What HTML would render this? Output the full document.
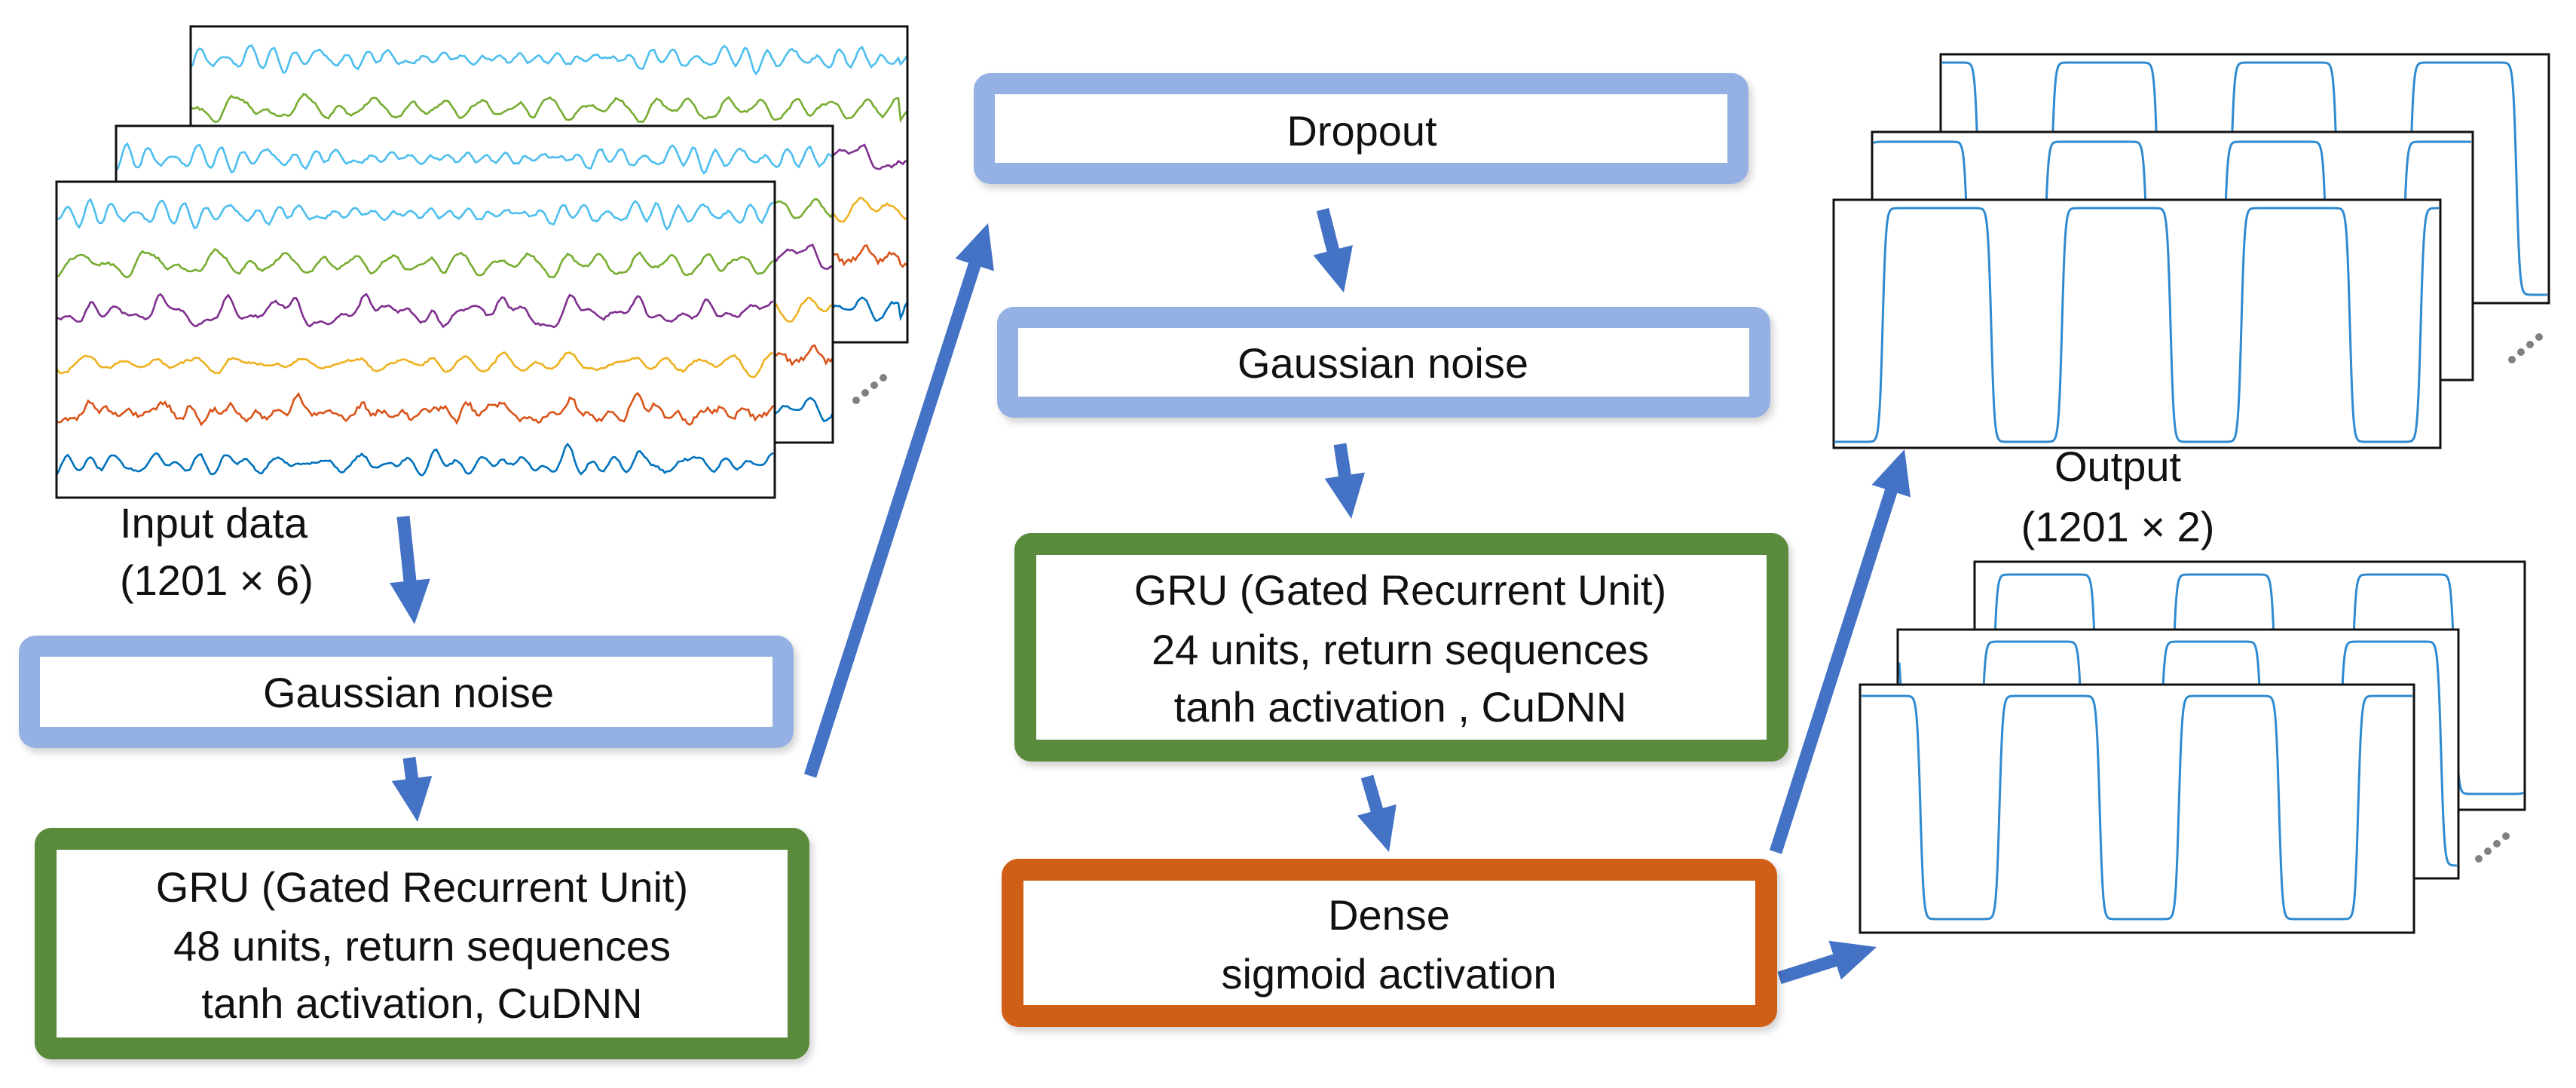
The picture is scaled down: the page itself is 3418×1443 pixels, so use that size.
<!DOCTYPE html>
<html><head><meta charset="utf-8">
<style>
html,body{margin:0;padding:0;background:#fff;}
svg{display:block;}
text{font-family:"Liberation Sans",sans-serif;font-size:56px;fill:#111;}
</style></head>
<body>
<svg id="s" width="3418" height="1443" viewBox="0 0 3418 1443" xmlns="http://www.w3.org/2000/svg">
<defs>
<filter id="sh" x="-5%" y="-5%" width="110%" height="120%"><feDropShadow dx="4" dy="6" stdDeviation="5" flood-color="#000" flood-opacity="0.18"/></filter>
</defs>
<g id="plots"></g>
<g id="arrows"></g>
<!-- boxes -->
<g fill="#fff" filter="url(#sh)">
<rect x="39" y="857" width="1000" height="121" rx="8" stroke="#95b1e3" stroke-width="28"/>
<rect x="60.5" y="1112.5" width="999" height="278" rx="8" stroke="#5a8a3a" stroke-width="29"/>
<rect x="1306" y="111" width="1000" height="119" rx="8" stroke="#95b1e3" stroke-width="28"/>
<rect x="1337" y="421" width="998" height="119" rx="8" stroke="#95b1e3" stroke-width="28"/>
<rect x="1360.5" y="721.5" width="998" height="274" rx="8" stroke="#5a8a3a" stroke-width="29"/>
<rect x="1343.5" y="1153.5" width="1000" height="194" rx="8" stroke="#cf5f16" stroke-width="29"/>
</g>
<g text-anchor="middle">
<text x="542" y="938">Gaussian noise</text>
<text x="560" y="1196">GRU (Gated Recurrent Unit)</text>
<text x="560" y="1274">48 units, return sequences</text>
<text x="560" y="1350">tanh activation, CuDNN</text>
<text x="1807" y="193">Dropout</text>
<text x="1835" y="501">Gaussian noise</text>
<text x="1858" y="802">GRU (Gated Recurrent Unit)</text>
<text x="1858" y="881">24 units, return sequences</text>
<text x="1858" y="957">tanh activation , CuDNN</text>
<text x="1843" y="1233">Dense</text>
<text x="1843" y="1311">sigmoid activation</text>
<text x="2810" y="638">Output</text>
<text x="2810" y="718">(1201 × 2)</text>
</g>
<text x="159" y="713">Input data</text>
<text x="159" y="789">(1201 × 6)</text>
<g fill="#808080">
<circle cx="1136" cy="531" r="5"/><circle cx="1148" cy="521" r="5"/><circle cx="1160" cy="511" r="5"/><circle cx="1172" cy="501" r="5"/>
<circle cx="3333" cy="477" r="5"/><circle cx="3345" cy="467" r="5"/><circle cx="3357" cy="457" r="5"/><circle cx="3369" cy="447" r="5"/>
<circle cx="3289" cy="1139" r="5"/><circle cx="3301" cy="1129" r="5"/><circle cx="3313" cy="1119" r="5"/><circle cx="3325" cy="1109" r="5"/>
</g>
</svg>
<script>
(function(){
var NS="http://www.w3.org/2000/svg";
var P=document.getElementById("plots"), A=document.getElementById("arrows");
function el(t,a,p){var e=document.createElementNS(NS,t);for(var k in a)e.setAttribute(k,a[k]);(p||P).appendChild(e);return e;}
var seed=7;function rnd(){seed=(seed*16807)%2147483647;return seed/2147483647;}
var cid=0;
function frame(x1,y1,x2,y2,draw){
  var id="c"+(cid++);
  var cp=el("clipPath",{id:id});el("rect",{x:x1,y:y1,width:x2-x1,height:y2-y1},cp);
  el("rect",{x:x1,y:y1,width:x2-x1,height:y2-y1,fill:"#fff"});
  var g=el("g",{"clip-path":"url(#"+id+")"});
  draw(g,x1,y1,x2,y2);
  el("rect",{x:x1,y:y1,width:x2-x1,height:y2-y1,fill:"none",stroke:"#111","stroke-width":3});
}
// input signals
var cols=["#4dbeee","#77ac30","#7e2f8e","#edb120","#d95319","#0072bd"];
var sig=[];
for(var r=0;r<6;r++){
  var comps=[];for(var k=0;k<6;k++)comps.push([rnd()*6.28,0.02+rnd()*0.25,(k<2?6:3)*(0.5+rnd())]);
  var pk=(r==2||r==4)?1:0.4;
  var arr=[];
  for(var i=0;i<1000;i++){
    var v=0;for(var k=0;k<comps.length;k++)v+=comps[k][2]*Math.sin(comps[k][0]+i*comps[k][1]);
    var ph=(i%91)/91; v+= -pk*18*Math.exp(-Math.pow((ph-0.5)*10,2));
    v+=(rnd()-0.5)*(r==4?6:3);
    arr.push(v);
  }
  sig.push(arr);
}
function inputs(g,x1,y1,x2,y2,off){
  var h=(y2-y1);
  for(var r=0;r<6;r++){
    var yc=y1+44+r*(h-88)/5;var d="";
    for(var i=0;i<=x2-x1;i+=3){var v=sig[r][(i+off)%1000];d+=(i?"L":"M")+(x1+i)+" "+(yc+v).toFixed(1);}
    el("path",{d:d,fill:"none",stroke:cols[r],"stroke-width":2.6},g);
  }
}
frame(253,35,1204,454,function(g,a,b,c,d){inputs(g,a,b,c,d,60);});
frame(154,167,1105,587,function(g,a,b,c,d){inputs(g,a,b,c,d,30);});
frame(75,241,1028,660,function(g,a,b,c,d){inputs(g,a,b,c,d,0);});
function sq(x1,y1,x2,y2,rise,H,hy,ly){
  return function(g){
    var Pd=238,d="";
    for(var x=x1+2;x<=x2-2;x+=1){
      var t=x-rise-H/2;t=t-Math.round(t/Pd)*Pd;var dd=Math.abs(t);
      var v=1/(1+Math.exp((dd-H/2)/2.2));
      d+=(x==x1+2?"M":"L")+x+" "+(ly+(hy-ly)*v).toFixed(1);
    }
    el("path",{d:d,fill:"none",stroke:"#2f8ad0","stroke-width":3},g);
  };
}
frame(2575,72,3382,402,sq(2575,72,3382,402,2722,141,83,391));
frame(2484,175,3281,504,sq(2484,175,3281,504,2713,136,188,494));
frame(2433,265,3238,594,sq(2433,265,3238,594,2498,144,276,586));
frame(2620,745,3350,1074,sq(2620,745,3350,1074,2645,136,762,1053));
frame(2518,835,3262,1165,sq(2518,835,3262,1165,2629,134,851,1148));
frame(2468,908,3203,1237,sq(2468,908,3203,1237,2653,133,923,1219));
function arrow(x1,y1,x2,y2){
  var dx=x2-x1,dy=y2-y1,L=Math.sqrt(dx*dx+dy*dy),ux=dx/L,uy=dy/L,nx=-uy,ny=ux;
  var hl=58,hw=27,sw=8.5;var bx=x2-ux*hl,by=y2-uy*hl;
  var pts=[[x1+nx*sw,y1+ny*sw],[bx+nx*sw,by+ny*sw],[bx+nx*hw,by+ny*hw],[x2,y2],[bx-nx*hw,by-ny*hw],[bx-nx*sw,by-ny*sw],[x1-nx*sw,y1-ny*sw]];
  el("polygon",{points:pts.map(function(p){return p[0].toFixed(1)+","+p[1].toFixed(1);}).join(" "),fill:"#4472c4"},A);
}
arrow(535,685,550,828);
arrow(543,1005,554,1090);
arrow(1075,1029,1311,296);
arrow(1755,278,1783,388);
arrow(1778,589,1793,688);
arrow(1814,1030,1843,1130);
arrow(2356,1130,2527,596);
arrow(2361,1297,2490,1256);
})();
</script>
</body></html>
